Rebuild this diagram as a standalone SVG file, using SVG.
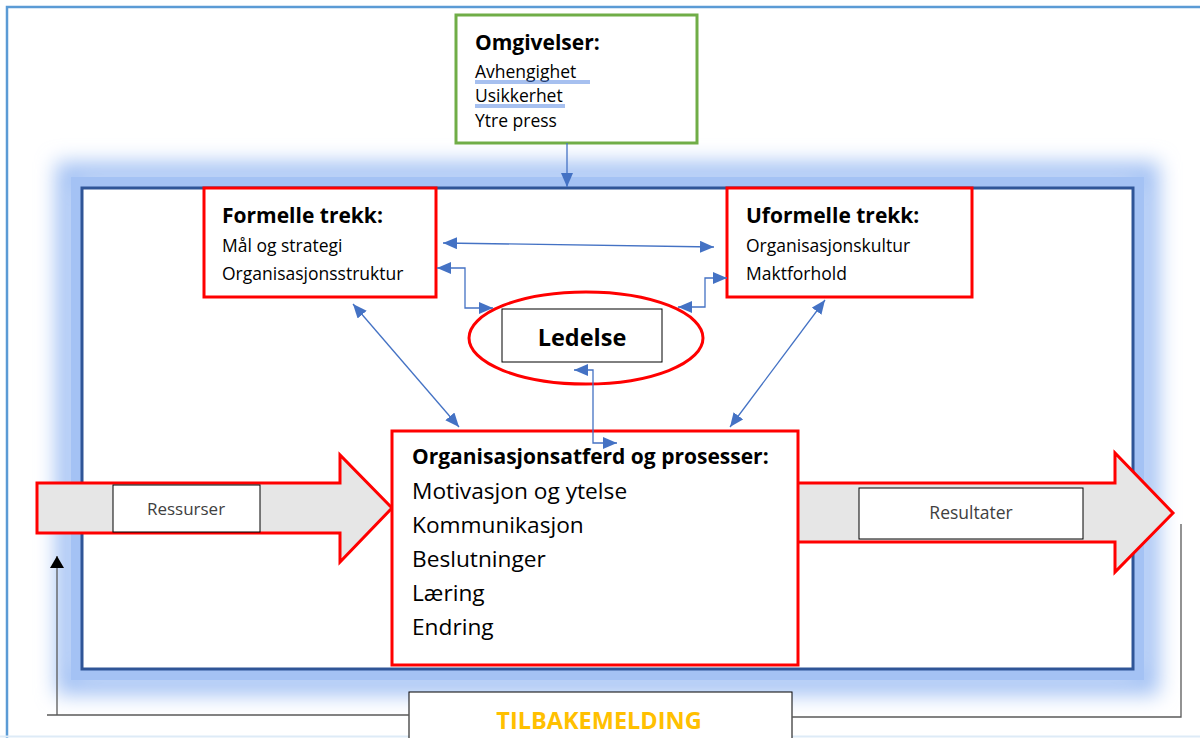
<svg xmlns="http://www.w3.org/2000/svg" width="1200" height="738" viewBox="0 0 1200 738">
<defs>
<style>
text{font-family:"Open Sans","Liberation Sans",sans-serif;fill:#000}
.h{font-weight:bold;font-size:21px}
.b{font-size:17.5px}
.big{font-size:22.7px}
.red{fill:#fff;stroke:#ff0000;stroke-width:3}
.con{fill:none;stroke:#4472c4;stroke-width:1.3}
.fb{fill:none;stroke:#595959;stroke-width:1.3}
.blk{fill:#e6e6e6;stroke:#ff0000;stroke-width:3;stroke-linejoin:miter}
.lab{fill:#fff;stroke:#000;stroke-width:1}
.ul{stroke:#4f81e0;stroke-width:1}
</style>
<marker id="a" viewBox="0 0 14 12" refX="14" refY="6" markerWidth="14" markerHeight="12" markerUnits="userSpaceOnUse" orient="auto-start-reverse">
<path d="M0,0 L14,6 L0,12 Z" fill="#4472c4"/>
</marker>
<marker id="k" viewBox="0 0 12 14" refX="12" refY="7" markerWidth="12" markerHeight="14" markerUnits="userSpaceOnUse" orient="auto">
<path d="M0,0 L12,7 L0,14 Z" fill="#000"/>
</marker>
<filter id="glow" x="-10%" y="-20%" width="120%" height="140%">
<feGaussianBlur stdDeviation="10"/>
</filter>
</defs>
<rect width="1200" height="738" fill="#fff"/>
<path d="M7,738 L7,7 L1200,7" fill="none" stroke="#5b9bd5" stroke-width="2.5"/>
<line x1="0" y1="736.5" x2="1200" y2="736.5" stroke="#deebf7" stroke-width="2"/>

<g id="frame">
<rect x="68" y="174" width="1079" height="509" fill="none" stroke="#a4c2f4" stroke-width="24" filter="url(#glow)"/>
<rect x="76" y="182" width="1063" height="493" fill="none" stroke="#a4c2f4" stroke-width="10"/>
<rect x="82" y="188" width="1051" height="481" fill="#fff" stroke="#2f5597" stroke-width="3"/>
</g>

<g id="omgivelser">
<rect x="456" y="15" width="241" height="128" fill="#fff" stroke="#70ad47" stroke-width="3"/>
<text class="h" x="475" y="50">Omgivelser:</text>
<text class="b" x="475" y="78">Avhengighet</text>
<text class="b" x="475" y="102">Usikkerhet</text>
<text class="b" x="475" y="127">Ytre press</text>
<line class="ul" x1="475" y1="81" x2="590" y2="81"/>
<line class="ul" x1="475" y1="83" x2="590" y2="83"/>
<line class="ul" x1="475" y1="105" x2="565" y2="105"/>
<line class="ul" x1="475" y1="107" x2="565" y2="107"/>
</g>

<g id="formelle">
<rect class="red" x="204" y="188" width="232" height="109"/>
<text class="h" x="222" y="223">Formelle trekk:</text>
<text class="b" x="222" y="252">Mål og strategi</text>
<text class="b" x="222" y="280">Organisasjonsstruktur</text>
</g>

<g id="uformelle">
<rect class="red" x="727" y="188" width="245" height="109"/>
<text class="h" x="746" y="223">Uformelle trekk:</text>
<text class="b" x="746" y="252">Organisasjonskultur</text>
<text class="b" x="746" y="280">Maktforhold</text>
</g>

<g id="ledelse">
<ellipse cx="586" cy="338" rx="117" ry="46" fill="#fff" stroke="#ff0000" stroke-width="3"/>
<rect class="lab" x="502" y="309" width="160" height="53"/>
<text x="582" y="346" text-anchor="middle" style="font-weight:bold;font-size:23.5px">Ledelse</text>
</g>

<g id="ressurser">
<path class="blk" d="M37,483 L340,483 L340,455 L392,508 L340,562 L340,533 L37,533 Z"/>
<rect class="lab" x="113" y="485" width="147" height="47"/>
<text x="186" y="515" text-anchor="middle" style="font-size:17px;fill:#404040">Ressurser</text>
</g>

<g id="resultater">
<path class="blk" d="M793,483 L1115,483 L1115,453 L1173,513 L1115,572 L1115,542 L793,542 Z"/>
<rect class="lab" x="859" y="488" width="224" height="51"/>
<text x="971" y="519" text-anchor="middle" style="font-size:17.5px;fill:#404040">Resultater</text>
</g>

<g id="prosesser">
<rect class="red" x="392" y="431" width="406" height="234"/>
<text class="h" x="412" y="464">Organisasjonsatferd og prosesser:</text>
<text class="big" x="412" y="499">Motivasjon og ytelse</text>
<text class="big" x="412" y="533">Kommunikasjon</text>
<text class="big" x="412" y="567">Beslutninger</text>
<text class="big" x="412" y="601">Læring</text>
<text class="big" x="412" y="635">Endring</text>
</g>

<g id="tilbakemelding">
<rect x="409" y="692" width="383" height="52" fill="#fff" stroke="#000" stroke-width="1"/>
<text x="599" y="729" text-anchor="middle" style="font-weight:bold;font-size:23.5px;fill:#ffc000">TILBAKEMELDING</text>
</g>

<g id="connectors">
<line class="con" x1="567" y1="143" x2="567" y2="187" marker-end="url(#a)"/>
<line class="con" x1="443" y1="243" x2="714" y2="247" marker-start="url(#a)" marker-end="url(#a)"/>
<path class="con" d="M437,268 L465,268 L465,308 L493,308" marker-start="url(#a)" marker-end="url(#a)"/>
<path class="con" d="M678,307 L705,307 L705,278 L727,278" marker-start="url(#a)" marker-end="url(#a)"/>
<path class="con" d="M574,370 L593,370 L593,443 L617,443" marker-start="url(#a)" marker-end="url(#a)"/>
<line class="con" x1="353" y1="304" x2="459" y2="427" marker-start="url(#a)" marker-end="url(#a)"/>
<line class="con" x1="825" y1="300" x2="730" y2="427" marker-start="url(#a)" marker-end="url(#a)"/>
<path class="fb" d="M409,715 L47,715"/>
<line class="fb" x1="57" y1="715" x2="57" y2="556" marker-end="url(#k)"/>
<path class="fb" d="M792,717 L1181,717 L1181,524"/>
</g>
</svg>
